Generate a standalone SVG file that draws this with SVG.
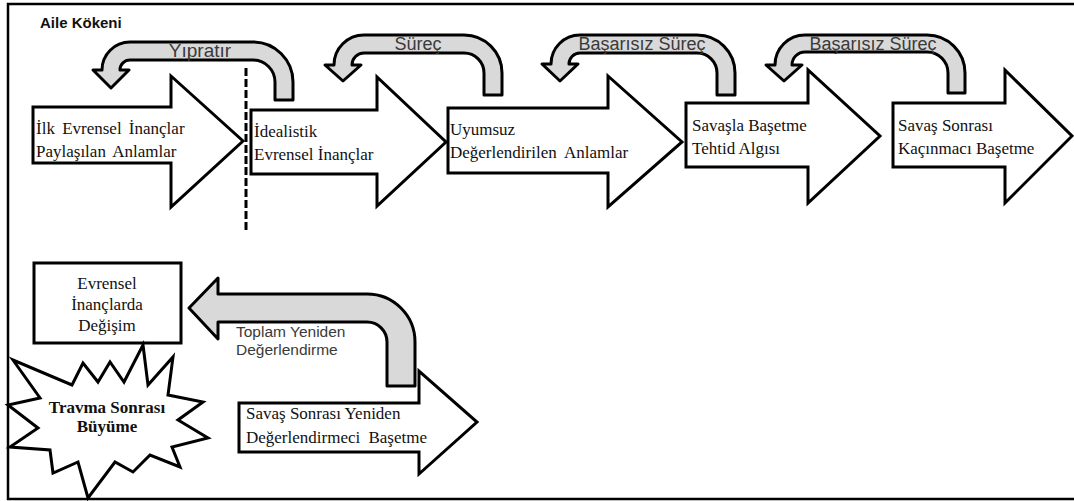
<svg xmlns="http://www.w3.org/2000/svg" width="1074" height="501" viewBox="0 0 1074 501">
<style>
.frame{fill:none;stroke:#000;stroke-width:2.5}
.blk{fill:#fff;stroke:#000;stroke-width:3;stroke-linejoin:miter}
.cur{fill:#d9d9d9;stroke:#000;stroke-width:3;stroke-linejoin:round}
.nt{font-family:"Liberation Serif","Times New Roman",serif;font-size:17px;fill:#111}
.lb{font-family:"Liberation Sans",Arial,sans-serif;fill:#3a3a3a}
.dash{stroke:#000;stroke-width:3;stroke-dasharray:8 3}
</style>
<defs>
<clipPath id="c1"><rect x="0" y="44" width="1074" height="60"/></clipPath>
<clipPath id="c2"><rect x="0" y="37" width="1074" height="60"/></clipPath>
</defs>
<rect width="1074" height="501" fill="#fff"/>
<path class="frame" d="M1074,4 L8,4 L8,499 L1074,499"/>
<text x="40" y="28" font-family="Liberation Sans,Arial,sans-serif" font-size="15" font-weight="bold" fill="#111">Aile Kökeni</text>

<g id="n1">
<polygon class="blk" points="33,107 171,107 171,76 243,141 171,207 171,163 33,163"/>
<text class="nt" x="36" y="134" word-spacing="3">İlk Evrensel İnançlar</text>
<text class="nt" x="36" y="157" word-spacing="3">Paylaşılan Anlamlar</text>
</g>
<g id="n2">
<polygon class="blk" points="251,110 377,110 377,77 446,142 377,206 377,174 251,174"/>
<text class="nt" x="254" y="137">İdealistik</text>
<text class="nt" x="254" y="160">Evrensel İnançlar</text>
</g>
<g id="n3">
<polygon class="blk" points="448,108 608,108 608,76 682,142 608,207 608,173 448,173"/>
<text class="nt" x="450" y="135">Uyumsuz</text>
<text class="nt" x="450" y="158" word-spacing="4">Değerlendirilen Anlamlar</text>
</g>
<g id="n4">
<polygon class="blk" points="686,103 808,103 808,70 880,136 808,203 808,167 686,167"/>
<text class="nt" x="692" y="131">Savaşla Başetme</text>
<text class="nt" x="692" y="154">Tehtid Algısı</text>
</g>
<g id="n5">
<polygon class="blk" points="893,103 1005,103 1005,70 1072,136 1005,203 1005,167 893,167"/>
<text class="nt" x="898" y="131">Savaş Sonrası</text>
<text class="nt" x="898" y="154">Kaçınmacı Başetme</text>
</g>
<g id="n6">
<polygon class="blk" points="239,403 419,403 419,371 477,422 419,474 419,452 239,452"/>
<text class="nt" x="246" y="419">Savaş Sonrası Yeniden</text>
<text class="nt" x="246" y="443" word-spacing="4">Değerlendirmeci Başetme</text>
</g>
<g id="n7">
<rect class="blk" x="34" y="263" width="147" height="80"/>
<text class="nt" x="107" y="289" text-anchor="middle">Evrensel</text>
<text class="nt" x="107" y="310" text-anchor="middle">İnançlarda</text>
<text class="nt" x="107" y="331" text-anchor="middle">Değişim</text>
</g>
<g id="n8">
<polygon class="blk" points="143,345 148,385 173,357 168,395 203,402 178,420 208,438 172,447 180,467 150,455 133,472 115,462 88,498 78,462 53,473 50,450 10,447 38,428 8,405 40,398 13,360 72,385 83,363 98,382 110,362 124,382"/>
<text class="nt" x="107" y="413" text-anchor="middle" font-weight="bold" font-size="15">Travma Sonrası</text>
<text class="nt" x="107" y="432" text-anchor="middle" font-weight="bold" font-size="15">Büyüme</text>
</g>

<g id="connectors">
<line class="dash" x1="246" y1="68" x2="246" y2="233"/>
<path class="cur" d="M293,100 L293,82 A40,40 0 0 0 253,42 L130,42 A28,28 0 0 0 102,70 L93,70 L111,88 L129,70 L120,70 A10,10 0 0 1 130,60 L253,60 A22,22 0 0 1 275,82 L275,100 Z"/>
<text class="lb" x="200" y="57" font-size="19" text-anchor="middle" clip-path="url(#c1)">Yıpratır</text>
<path class="cur" d="M502,95 L502,73 A38,38 0 0 0 464,35 L364,35 A30,30 0 0 0 334,65 L325,65 L343,81 L361,65 L352,65 A12,12 0 0 1 364,53 L464,53 A20,20 0 0 1 484,73 L484,95 Z"/>
<text class="lb" x="418" y="50" font-size="18" text-anchor="middle" clip-path="url(#c2)">Süreç</text>
<path class="cur" d="M735,95 L735,73 A38,38 0 0 0 697,35 L580,35 A29,29 0 0 0 551,64 L542,64 L560,81 L578,64 L569,64 A11,11 0 0 1 580,53 L697,53 A20,20 0 0 1 717,73 L717,95 Z"/>
<text class="lb" x="642" y="50" font-size="18" text-anchor="middle" clip-path="url(#c2)">Başarısız Süreç</text>
<path class="cur" d="M965,93 L965,73 A38,38 0 0 0 927,35 L805,35 A30,30 0 0 0 775,65 L766,65 L784,81 L802,65 L792,65 A13,13 0 0 1 805,52 L927,52 A21,21 0 0 1 948,73 L948,93 Z"/>
<text class="lb" x="873" y="50" font-size="18" text-anchor="middle" clip-path="url(#c2)">Başarısız Süreç</text>
<path class="cur" d="M415,386 L415,342 A48,48 0 0 0 367,294 L218,294 L218,278 L189,308 L218,339 L218,322 L367,322 A20,20 0 0 1 387,342 L387,386 Z"/>
<text class="lb" x="236" y="337" font-size="15.5">Toplam Yeniden</text>
<text class="lb" x="236" y="355" font-size="15.5">Değerlendirme</text>
</g>
</svg>
